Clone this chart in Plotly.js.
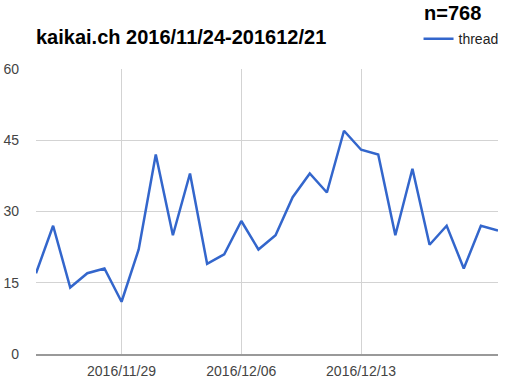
<!DOCTYPE html>
<html>
<head>
<meta charset="utf-8">
<script src="https://cdn.plot.ly/plotly-3.0.1.min.js"></script>
<style>html,body{margin:0;padding:0;background:#fff;}#chart{width:528px;height:392px;}</style>
</head>
<body>
<div id="chart"></div>
<script>
const dates = ["2016-11-24","2016-11-25","2016-11-26","2016-11-27","2016-11-28","2016-11-29","2016-11-30",
  "2016-12-01","2016-12-02","2016-12-03","2016-12-04","2016-12-05","2016-12-06","2016-12-07",
  "2016-12-08","2016-12-09","2016-12-10","2016-12-11","2016-12-12","2016-12-13","2016-12-14",
  "2016-12-15","2016-12-16","2016-12-17","2016-12-18","2016-12-19","2016-12-20","2016-12-21"];
const threads = [17,27,14,17,18,11,22,42,25,38,19,21,28,22,25,33,38,34,47,43,42,25,39,23,27,18,27,26];
const xTickVals = ["2016-11-29","2016-12-06","2016-12-13"];
const xTickText = ["2016/11/29","2016/12/06","2016/12/13"];
const yTickVals = [0,15,30,45,60];
const seriesName = "thread";
const titleText = "kaikai.ch 2016/11/24-201612/21";
const countText = "n=768";

const font = "Arial, 'Liberation Sans', sans-serif";
Plotly.newPlot("chart", [{
  x: dates, y: threads, type: "scatter", mode: "lines", name: seriesName,
  line: {color: "#3366cc", width: 2.5}
}], {
  width: 528, height: 392,
  margin: {l: 36, r: 30, t: 69, b: 38},
  paper_bgcolor: "#fff", plot_bgcolor: "#fff",
  font: {family: font, color: "#444", size: 14},
  showlegend: true,
  legend: {x: 0.828, y: 1.105, xanchor: "left", yanchor: "middle", font: {size: 14, color: "#222"}, bgcolor: "rgba(0,0,0,0)"},
  xaxis: {
    type: "date", range: ["2016-11-24","2016-12-21"],
    tickmode: "array", tickvals: xTickVals, ticktext: xTickText,
    showgrid: true, gridcolor: "#d3d3d3", gridwidth: 1,
    showline: true, linecolor: "#999", linewidth: 2,
    ticks: "", ticklabelstandoff: 3, tickfont: {size: 14, color: "#444"}, zeroline: false,
    fixedrange: true
  },
  yaxis: {
    range: [0, 60], tickmode: "array", tickvals: yTickVals,
    showgrid: true, gridcolor: "#d3d3d3", gridwidth: 1,
    zeroline: false, showline: false, ticks: "", ticklabelstandoff: 16,
    tickfont: {size: 14, color: "#444"}, fixedrange: true
  },
  annotations: [
    {text: "<b>" + titleText + "</b>", xref: "paper", yref: "paper", x: -0.004, y: 1.112,
     xanchor: "left", yanchor: "middle", showarrow: false, font: {size: 20, color: "#000", family: font}},
    {text: "<b>" + countText + "</b>", xref: "paper", yref: "paper", x: 0.836, y: 1.197,
     xanchor: "left", yanchor: "middle", showarrow: false, font: {size: 20, color: "#000", family: font}}
  ]
}, {displayModeBar: false, staticPlot: true});
</script>
</body>
</html>
